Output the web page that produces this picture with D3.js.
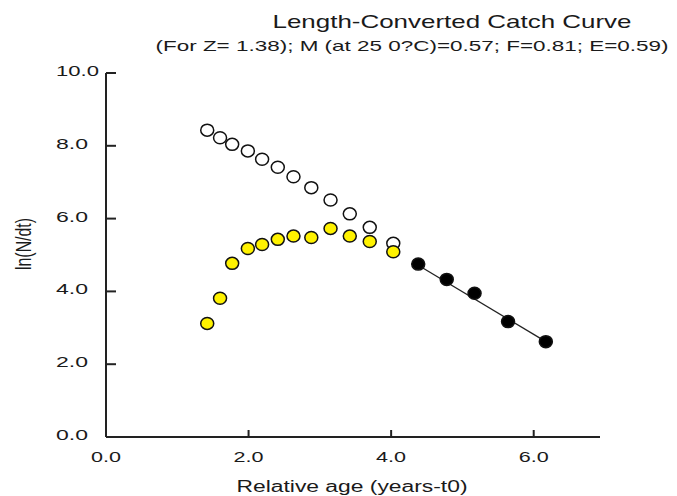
<!DOCTYPE html>
<html>
<head>
<meta charset="utf-8">
<script src="https://cdn.jsdelivr.net/npm/d3@7"></script>
<style>
  body { margin: 0; background: #fff; }
  text { font-family: "Liberation Sans", Arial, sans-serif; fill: #1a1a1a; }
</style>
</head>
<body>
<div id="catch_curve"></div>
<script>
// relative ages (years - t0) of the length classes
const ages = [1.42, 1.60, 1.77, 1.99, 2.19, 2.41, 2.63, 2.88, 3.15, 3.42, 3.70, 4.03];
// ln(N/dt) for all fish (open points)
const lnOpen = [8.43, 8.22, 8.04, 7.86, 7.63, 7.41, 7.15, 6.85, 6.51, 6.13, 5.76, 5.32];
// ln(N/dt) corrected for selection (yellow points)
const lnYellow = [3.12, 3.81, 4.77, 5.18, 5.29, 5.43, 5.52, 5.48, 5.73, 5.52, 5.37, 5.09];
// points used in the regression (black)
const agesUsed = [4.38, 4.78, 5.17, 5.64, 6.17];
const lnUsed = [4.75, 4.33, 3.95, 3.17, 2.62];
// ends of the fitted line
const fitAges = [4.38, 6.17];
const fitLn = [4.72, 2.62];

const xTicks = [0, 2, 4, 6];
const yTicks = [0, 2, 4, 6, 8, 10];

const title = "Length-Converted Catch Curve";
const subtitle = "(For Z= 1.38); M (at 25 0?C)=0.57; F=0.81; E=0.59)";
const xLabel = "Relative age (years-t0)";
const yLabel = "ln(N/dt)";

/**
 * Appends the svg to the dom.
 */
function appendToDom(width, height) {
    return d3.select("#catch_curve").append("svg")
        .attr("width", width)
        .attr("height", height);
}

/**
 * Draws the two axes with inward ticks.
 */
function drawAxes(svg, x, y) {
    const [x0, x1] = x.range();
    const [y0, y1] = y.range();

    svg.append("line")
        .attr("x1", x0).attr("x2", x0).attr("y1", y0).attr("y2", y1)
        .attr("stroke", "#222").attr("stroke-width", 2);
    svg.append("line")
        .attr("x1", x0).attr("x2", x1).attr("y1", y0).attr("y2", y0)
        .attr("stroke", "#222").attr("stroke-width", 2);

    svg.selectAll(".xtick")
        .data(xTicks)
        .enter()
        .append("line")
          .attr("x1", d => x(d)).attr("x2", d => x(d))
          .attr("y1", y0).attr("y2", y0 - 7)
          .attr("stroke", "#222").attr("stroke-width", 2);

    svg.selectAll(".xlabel")
        .data(xTicks)
        .enter()
        .append("text")
          .attr("x", d => x(d))
          .attr("y", y0 + 25)
          .attr("text-anchor", "middle")
          .style("font-size", "15px")
          .attr("textLength", 30)
          .attr("lengthAdjust", "spacingAndGlyphs")
          .text(d => d.toFixed(1));

    svg.selectAll(".ytick")
        .data(yTicks)
        .enter()
        .append("line")
          .attr("x1", x0).attr("x2", x0 + 10)
          .attr("y1", d => y(d)).attr("y2", d => y(d))
          .attr("stroke", "#222").attr("stroke-width", 2);

    svg.selectAll(".ylabel")
        .data(yTicks)
        .enter()
        .append("text")
          .attr("x", 56)
          .attr("y", d => y(d) + 3)
          .style("font-size", "15px")
          .attr("textLength", d => d >= 10 ? 43 : 32)
          .attr("lengthAdjust", "spacingAndGlyphs")
          .text(d => d.toFixed(1));
}

/**
 * Title, subtitle and the axis names.
 */
function drawTexts(svg) {
    svg.append("text")
        .attr("x", 452).attr("y", 28)
        .attr("text-anchor", "middle")
        .style("font-size", "19px")
        .attr("textLength", 359)
        .attr("lengthAdjust", "spacingAndGlyphs")
        .text(title);

    svg.append("text")
        .attr("x", 412).attr("y", 51)
        .attr("text-anchor", "middle")
        .style("font-size", "15px")
        .attr("textLength", 513)
        .attr("lengthAdjust", "spacingAndGlyphs")
        .text(subtitle);

    svg.append("text")
        .attr("x", 352).attr("y", 492)
        .attr("text-anchor", "middle")
        .style("font-size", "16px")
        .attr("textLength", 231)
        .attr("lengthAdjust", "spacingAndGlyphs")
        .text(xLabel);

    svg.append("text")
        .attr("transform", "translate(31,244) scale(1.4,1) rotate(-90)")
        .attr("text-anchor", "middle")
        .style("font-size", "16px")
        .attr("textLength", 52)
        .attr("lengthAdjust", "spacingAndGlyphs")
        .text(yLabel);
}

/**
 * Plots one series of markers.
 */
function plotPoints(svg, xs, ys, fill, x, y) {
    svg.append("g")
        .selectAll("circle")
        .data(xs.map((d, i) => [d, ys[i]]))
        .enter()
        .append("ellipse")
          .attr("cx", d => x(d[0]))
          .attr("cy", d => y(d[1]))
          .attr("rx", 6.5)
          .attr("ry", 6)
          .attr("fill", fill)
          .attr("stroke", "#111")
          .attr("stroke-width", 1.5);
}

function drawFit(svg, x, y) {
    svg.append("path")
        .datum(fitAges.map((d, i) => [d, fitLn[i]]))
        .attr("fill", "none")
        .attr("stroke", "#222")
        .attr("stroke-width", 1.3)
        .attr("d", d3.line().x(d => x(d[0])).y(d => y(d[1])));
}

function drawGraph() {
    const svg = appendToDom(677, 496);
    const x = d3.scaleLinear().domain([0, 6.93]).range([106, 600]);
    const y = d3.scaleLinear().domain([0, 10]).range([437, 73]);
    drawAxes(svg, x, y);
    drawTexts(svg);
    drawFit(svg, x, y);
    plotPoints(svg, ages, lnOpen, "#fff", x, y);
    plotPoints(svg, ages, lnYellow, "#fff200", x, y);
    plotPoints(svg, agesUsed, lnUsed, "#000", x, y);
}

drawGraph();
</script>
</body>
</html>
